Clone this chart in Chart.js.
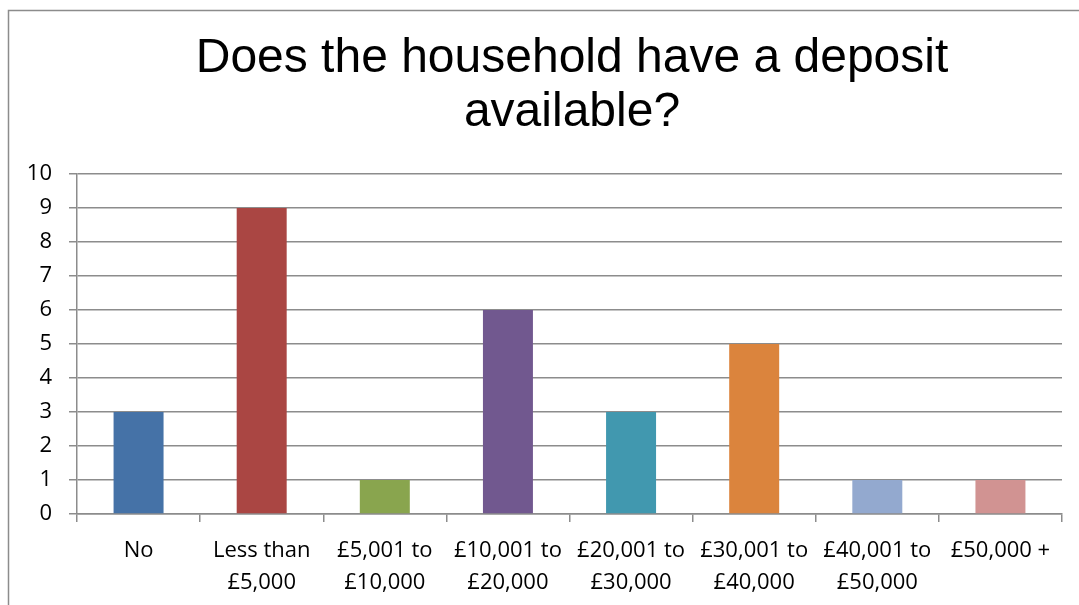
<!DOCTYPE html>
<html>
<head>
<meta charset="utf-8">
<script src="https://cdn.jsdelivr.net/npm/chart.js@4/dist/chart.umd.min.js"></script>
<style>
  html, body { margin: 0; padding: 0; background: #fff; }
  #wrap { width: 1079px; height: 605px; }
</style>
</head>
<body>
<div id="wrap"><canvas id="depositChart" width="1079" height="605"></canvas></div>
<script>
var chartTitle = ["Does the household have a deposit", "available?"];
var categories = [
    ["No"],
    ["Less than", "£5,000"],
    ["£5,001 to", "£10,000"],
    ["£10,001 to", "£20,000"],
    ["£20,001 to", "£30,000"],
    ["£30,001 to", "£40,000"],
    ["£40,001 to", "£50,000"],
    ["£50,000 +"]
];
var households = [3, 9, 1, 6, 3, 5, 1, 1];
var barColours = ["#4572A7", "#AA4643", "#89A54E", "#71588F", "#4198AF", "#DB843D", "#93A9CF", "#D19392"];

var lineGrey = "#8c8c8c";

// white background, outer frame and the two-line heading
var framePlugin = {
    id: 'frame',
    beforeDraw: function (chart) {
        var c = chart.ctx;
        c.save();
        c.fillStyle = "#fff";
        c.fillRect(0, 0, chart.width, chart.height);
        c.strokeStyle = lineGrey;
        c.lineWidth = 1.5;
        c.strokeRect(8.5, 10.5, 1200, 1000);

        c.fillStyle = "#000";
        c.font = "48px 'Liberation Sans', Arial, sans-serif";
        c.textAlign = "center";
        c.textBaseline = "alphabetic";
        c.fillText(chartTitle[0], 572, 72);
        c.fillText(chartTitle[1], 572, 126);
        c.restore();
    }
};

var ctx = document.getElementById("depositChart").getContext('2d');

var depositChart = new Chart(ctx, {
    type: 'bar',
    data: {
        labels: categories,
        datasets: [{
            data: households,
            backgroundColor: barColours,
            borderWidth: 0,
            categoryPercentage: 1,
            barPercentage: 0.406
        }]
    },
    options: {
        responsive: false,
        animation: false,
        layout: { padding: { top: 174, right: 17, bottom: 0, left: 0 } },
        plugins: {
            legend: { display: false },
            tooltip: { enabled: false },
            title: { display: false }
        },
        scales: {
            x: {
                grid: {
                    offset: true,
                    drawOnChartArea: false,
                    drawTicks: true,
                    tickLength: 8,
                    color: lineGrey,
                    lineWidth: 1.5
                },
                border: { display: true, color: lineGrey, width: 1.5 },
                ticks: {
                    color: "#000",
                    maxRotation: 0,
                    autoSkip: false,
                    padding: 13,
                    font: { family: "'Open Sans', sans-serif", size: 22, lineHeight: 1.45 }
                },
                afterFit: function (scale) { scale.height = 91; }
            },
            y: {
                min: 0,
                max: 10,
                ticks: {
                    stepSize: 1,
                    color: "#000",
                    padding: 17,
                    font: { family: "'Open Sans', sans-serif", size: 22 }
                },
                grid: {
                    color: lineGrey,
                    lineWidth: 1.5,
                    tickLength: 8
                },
                border: { display: true, color: lineGrey, width: 1.5 },
                afterFit: function (scale) { scale.width = 77; }
            }
        }
    },
    plugins: [framePlugin]
});
</script>
</body>
</html>
